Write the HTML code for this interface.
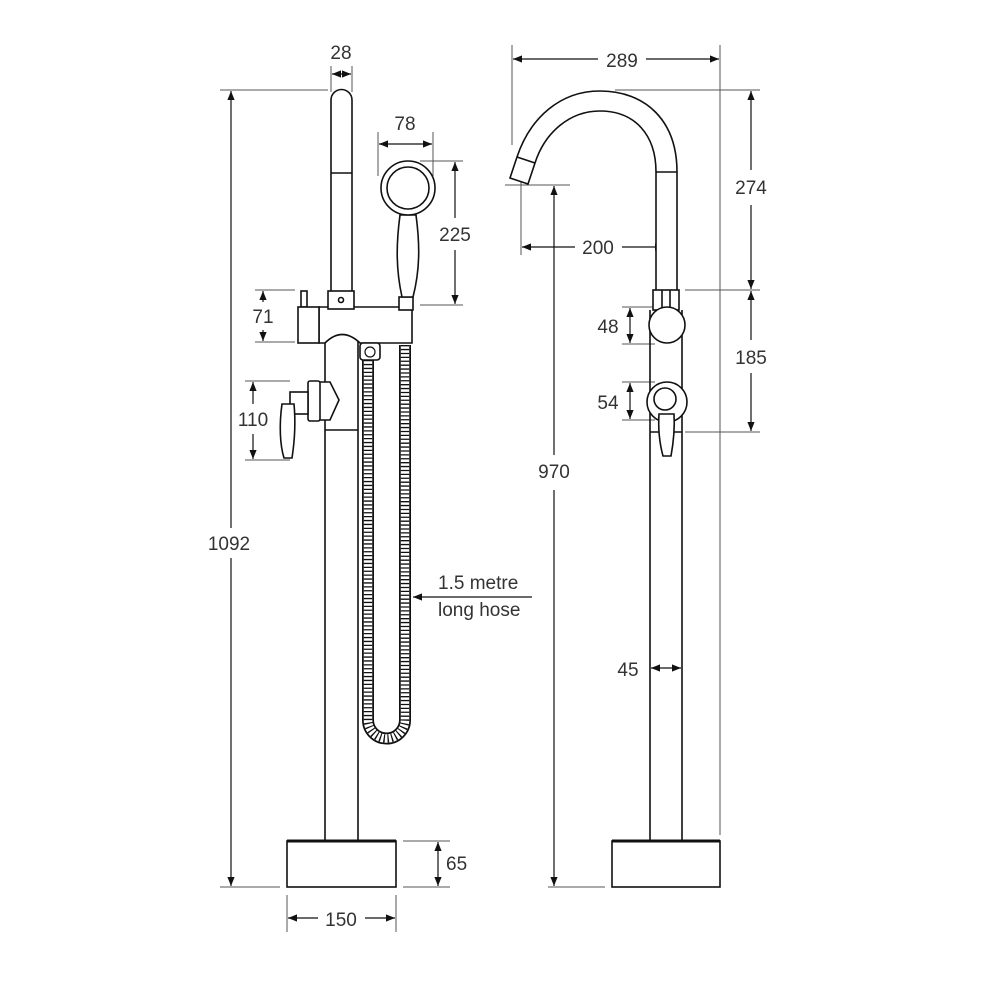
<!DOCTYPE html>
<html><head><meta charset="utf-8"><style>
html,body{margin:0;padding:0;background:#fff;width:1000px;height:1000px;overflow:hidden}
text{font-family:"Liberation Sans",sans-serif;font-size:19px;fill:#333}
</style></head><body>
<svg width="1000" height="1000" viewBox="0 0 1000 1000" xmlns="http://www.w3.org/2000/svg">
<defs>
<marker id="a" viewBox="0 0 10 10" refX="10" refY="5" markerWidth="9" markerHeight="9" markerUnits="userSpaceOnUse" orient="auto-start-reverse"><path d="M0,1 L10,5 L0,9 z" fill="#111"/></marker>
</defs>
<g stroke="#555" stroke-width="1" fill="none">
<line x1="220" y1="90" x2="328" y2="90"/>
<line x1="220" y1="887" x2="280" y2="887"/>
<line x1="331" y1="66" x2="331" y2="92"/>
<line x1="352" y1="66" x2="352" y2="92"/>
<line x1="378" y1="132" x2="378" y2="176"/>
<line x1="433" y1="132" x2="433" y2="176"/>
<line x1="420" y1="161" x2="463" y2="161"/>
<line x1="420" y1="305" x2="463" y2="305"/>
<line x1="255" y1="290" x2="295" y2="290"/>
<line x1="255" y1="342" x2="295" y2="342"/>
<line x1="245" y1="381" x2="290" y2="381"/>
<line x1="245" y1="460" x2="290" y2="460"/>
<line x1="403" y1="841" x2="450" y2="841"/>
<line x1="403" y1="887" x2="450" y2="887"/>
<line x1="287" y1="895" x2="287" y2="932"/>
<line x1="396" y1="895" x2="396" y2="932"/>
<line x1="512" y1="45" x2="512" y2="145"/>
<line x1="720" y1="45" x2="720" y2="835"/>
<line x1="615" y1="90" x2="760" y2="90"/>
<line x1="685" y1="290" x2="760" y2="290"/>
<line x1="685" y1="432" x2="760" y2="432"/>
<line x1="521" y1="178" x2="521" y2="255"/>
<line x1="665" y1="225" x2="665" y2="270"/>
<line x1="505" y1="185" x2="570" y2="185"/>
<line x1="548" y1="887" x2="605" y2="887"/>
<line x1="622" y1="307" x2="655" y2="307"/>
<line x1="622" y1="344" x2="655" y2="344"/>
<line x1="622" y1="382" x2="655" y2="382"/>
<line x1="622" y1="420" x2="655" y2="420"/>
</g>
<g stroke="#111" stroke-width="1.2" fill="none" marker-start="url(#a)" marker-end="url(#a)">
<line x1="332" y1="74" x2="351" y2="74"/>
<line x1="379" y1="144" x2="432" y2="144"/>
<line x1="630" y1="308" x2="630" y2="343"/>
<line x1="630" y1="383" x2="630" y2="419"/>
<line x1="651" y1="668" x2="681" y2="668"/>
</g>
<g stroke="#111" stroke-width="1.2" fill="none">
<line x1="231" y1="91" x2="231" y2="528" marker-start="url(#a)"/>
<line x1="231" y1="558" x2="231" y2="886" marker-end="url(#a)"/>
<line x1="455" y1="162" x2="455" y2="218" marker-start="url(#a)"/>
<line x1="455" y1="250" x2="455" y2="304" marker-end="url(#a)"/>
<line x1="263" y1="291" x2="263" y2="302" marker-start="url(#a)"/>
<line x1="263" y1="330" x2="263" y2="341" marker-end="url(#a)"/>
<line x1="253" y1="382" x2="253" y2="404" marker-start="url(#a)"/>
<line x1="253" y1="434" x2="253" y2="459" marker-end="url(#a)"/>
<line x1="438" y1="842" x2="438" y2="886" marker-start="url(#a)" marker-end="url(#a)"/>
<line x1="751" y1="91" x2="751" y2="170" marker-start="url(#a)"/>
<line x1="751" y1="205" x2="751" y2="289" marker-end="url(#a)"/>
<line x1="751" y1="291" x2="751" y2="340" marker-start="url(#a)"/>
<line x1="751" y1="373" x2="751" y2="431" marker-end="url(#a)"/>
<line x1="288" y1="918" x2="318" y2="918" marker-start="url(#a)"/>
<line x1="365" y1="918" x2="395" y2="918" marker-end="url(#a)"/>
<line x1="513" y1="59" x2="598" y2="59" marker-start="url(#a)"/>
<line x1="646" y1="59" x2="719" y2="59" marker-end="url(#a)"/>
<line x1="522" y1="247" x2="575" y2="247" marker-start="url(#a)"/>
<line x1="622" y1="247" x2="664" y2="247" marker-end="url(#a)"/>
<line x1="554" y1="186" x2="554" y2="455" marker-start="url(#a)"/>
<line x1="554" y1="490" x2="554" y2="886" marker-end="url(#a)"/>
<line x1="532" y1="597" x2="413" y2="597" marker-end="url(#a)"/>
</g>
<!-- LEFT UNIT -->
<g stroke="#111" stroke-width="1.6" fill="#fff">
<path d="M325,340 L325,841 M358,340 L358,841"/>
<line x1="325" y1="430" x2="358" y2="430"/>
<rect x="287" y="841" width="109" height="46"/>
<line x1="287" y1="841" x2="396" y2="841" stroke-width="3"/>
<path d="M331,293 L331,100 A10.5,10.5 0 0 1 352,100 L352,293"/>
<line x1="331" y1="173" x2="352" y2="173"/>
<rect x="301" y="291" width="6" height="16"/>
<path d="M319,307 L412,307 L412,343 L360,343 Q342,326 325,343 L319,343 Z"/>
<rect x="298" y="307" width="21" height="36"/>
<rect x="328" y="291" width="26" height="18"/>
<circle cx="341" cy="300" r="2.5"/>
<rect x="399" y="297" width="14" height="13"/>
<path d="M402,297 C396,270 396,245 400,215 L416,215 C420,245 420,270 413,297 Z"/>
<circle cx="408" cy="188" r="27"/>
<circle cx="408" cy="188" r="21"/>
<path d="M318,382 L330,382 L339,400 L330,420 L318,420 Z"/>
<rect x="308" y="381" width="12" height="40" rx="2"/>
<rect x="290" y="392" width="18" height="22"/>
<path d="M282,404 L294,404 C296,425 294,445 292,458 L284,458 C280,445 279,425 282,404 Z"/>
</g>
<path d="M368,360 L368,720 A18,18 0 0 0 405,720 L405,345" stroke="#111" stroke-width="12" fill="none"/>
<path d="M368,360 L368,720 A18,18 0 0 0 405,720 L405,345" stroke="#fff" stroke-width="8.5" fill="none"/>
<path d="M368,360 L368,720 A18,18 0 0 0 405,720 L405,345" stroke="#111" stroke-width="8.5" stroke-dasharray="1.3 2.6" fill="none"/>
<rect x="360" y="343" width="20" height="17" rx="3" stroke="#111" stroke-width="1.6" fill="#fff"/>
<circle cx="370" cy="352" r="5" stroke="#111" stroke-width="1.2" fill="none"/>
<!-- RIGHT UNIT -->
<g stroke="#111" stroke-width="1.6" fill="#fff">
<path d="M650,310 L650,841 M682,310 L682,841"/>
<line x1="650" y1="432" x2="682" y2="432"/>
<rect x="612" y="841" width="108" height="46"/>
<line x1="612" y1="841" x2="720" y2="841" stroke-width="3"/>
<path d="M656,290 L656,172 C656,135 635,111 600,111 C570,111 545,132 535,163 L528,184 L510,178 L517,157 C530,118 560,91 600,91 C645,91 677,120 677,172 L677,290"/>
<line x1="656" y1="172" x2="677" y2="172"/>
<line x1="517" y1="157" x2="535" y2="163"/>
<rect x="653" y="290" width="26" height="20"/>
<path d="M662,290 L662,310 M670,290 L670,310"/>
<circle cx="667" cy="325" r="18"/>
<circle cx="667" cy="402" r="20"/>
<circle cx="665" cy="399" r="11"/>
<path d="M659,414 L674,414 C675,430 673,445 671,456 L663,456 C660,445 658,430 659,414 Z"/>
</g>
<text x="341" y="59" text-anchor="middle">28</text>
<text x="405" y="130" text-anchor="middle">78</text>
<text x="455" y="241" text-anchor="middle">225</text>
<text x="263" y="323" text-anchor="middle">71</text>
<text x="253" y="426" text-anchor="middle">110</text>
<text x="229" y="550" text-anchor="middle">1092</text>
<text x="446" y="870">65</text>
<text x="341" y="926" text-anchor="middle">150</text>
<text x="438" y="589">1.5 metre</text>
<text x="438" y="616">long hose</text>
<text x="622" y="67" text-anchor="middle">289</text>
<text x="751" y="194" text-anchor="middle">274</text>
<text x="598" y="254" text-anchor="middle">200</text>
<text x="751" y="364" text-anchor="middle">185</text>
<text x="608" y="333" text-anchor="middle">48</text>
<text x="608" y="409" text-anchor="middle">54</text>
<text x="554" y="478" text-anchor="middle">970</text>
<text x="628" y="676" text-anchor="middle">45</text>
</svg>
</body></html>
